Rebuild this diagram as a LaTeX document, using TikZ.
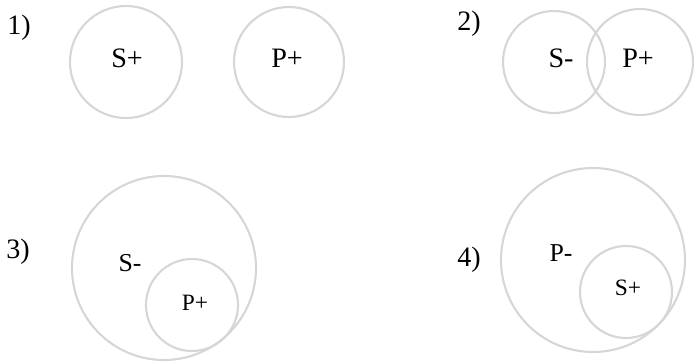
\documentclass[tikz,border=0pt]{standalone}
\usepackage{fontspec}
\setmainfont{Liberation Serif}
\usepackage{tikz}

\begin{document}
\begin{tikzpicture}[x=0.03cm, y=-0.03cm,
    every node/.style={font=\fontsize{24}{28}\selectfont, inner sep=0pt},
    set/.style={draw=black!16, line width=1.8pt}]
    \useasboundingbox (0,0) rectangle (695,362);

    % 1) S and P apart
    \node (n1) at (19,28) {1)};
    \draw[set] (126,62) circle (56);
    \draw[set] (289,62) circle (55);
    \node (s1) at (127,58) {S+};
    \node (p1) at (287,58) {P+};

    % 2) S and P overlap
    \node (n2) at (469,24) {2)};
    \draw[set] (554,62) circle (51);
    \draw[set] (640,62) circle (53);
    \node (s2) at (561,58) {S-};
    \node (p2) at (638,58) {P+};

    % 3) P inside S
    \node (n3) at (18,252) {3)};
    \draw[set] (164,268) circle (92);
    \draw[set] (192,305) circle (46);
    \node[font=\fontsize{22}{26}\selectfont] (s3) at (130,263) {S-};
    \node[font=\fontsize{20}{24}\selectfont] (p3) at (195,303) {P+};

    % 4) S inside P
    \node (n4) at (469,260) {4)};
    \draw[set] (593,260) circle (92);
    \draw[set] (626,292) circle (46);
    \node[font=\fontsize{22}{26}\selectfont] (p4) at (561,253) {P-};
    \node[font=\fontsize{20}{24}\selectfont] (s4) at (628,288) {S+};
\end{tikzpicture}
\end{document}
